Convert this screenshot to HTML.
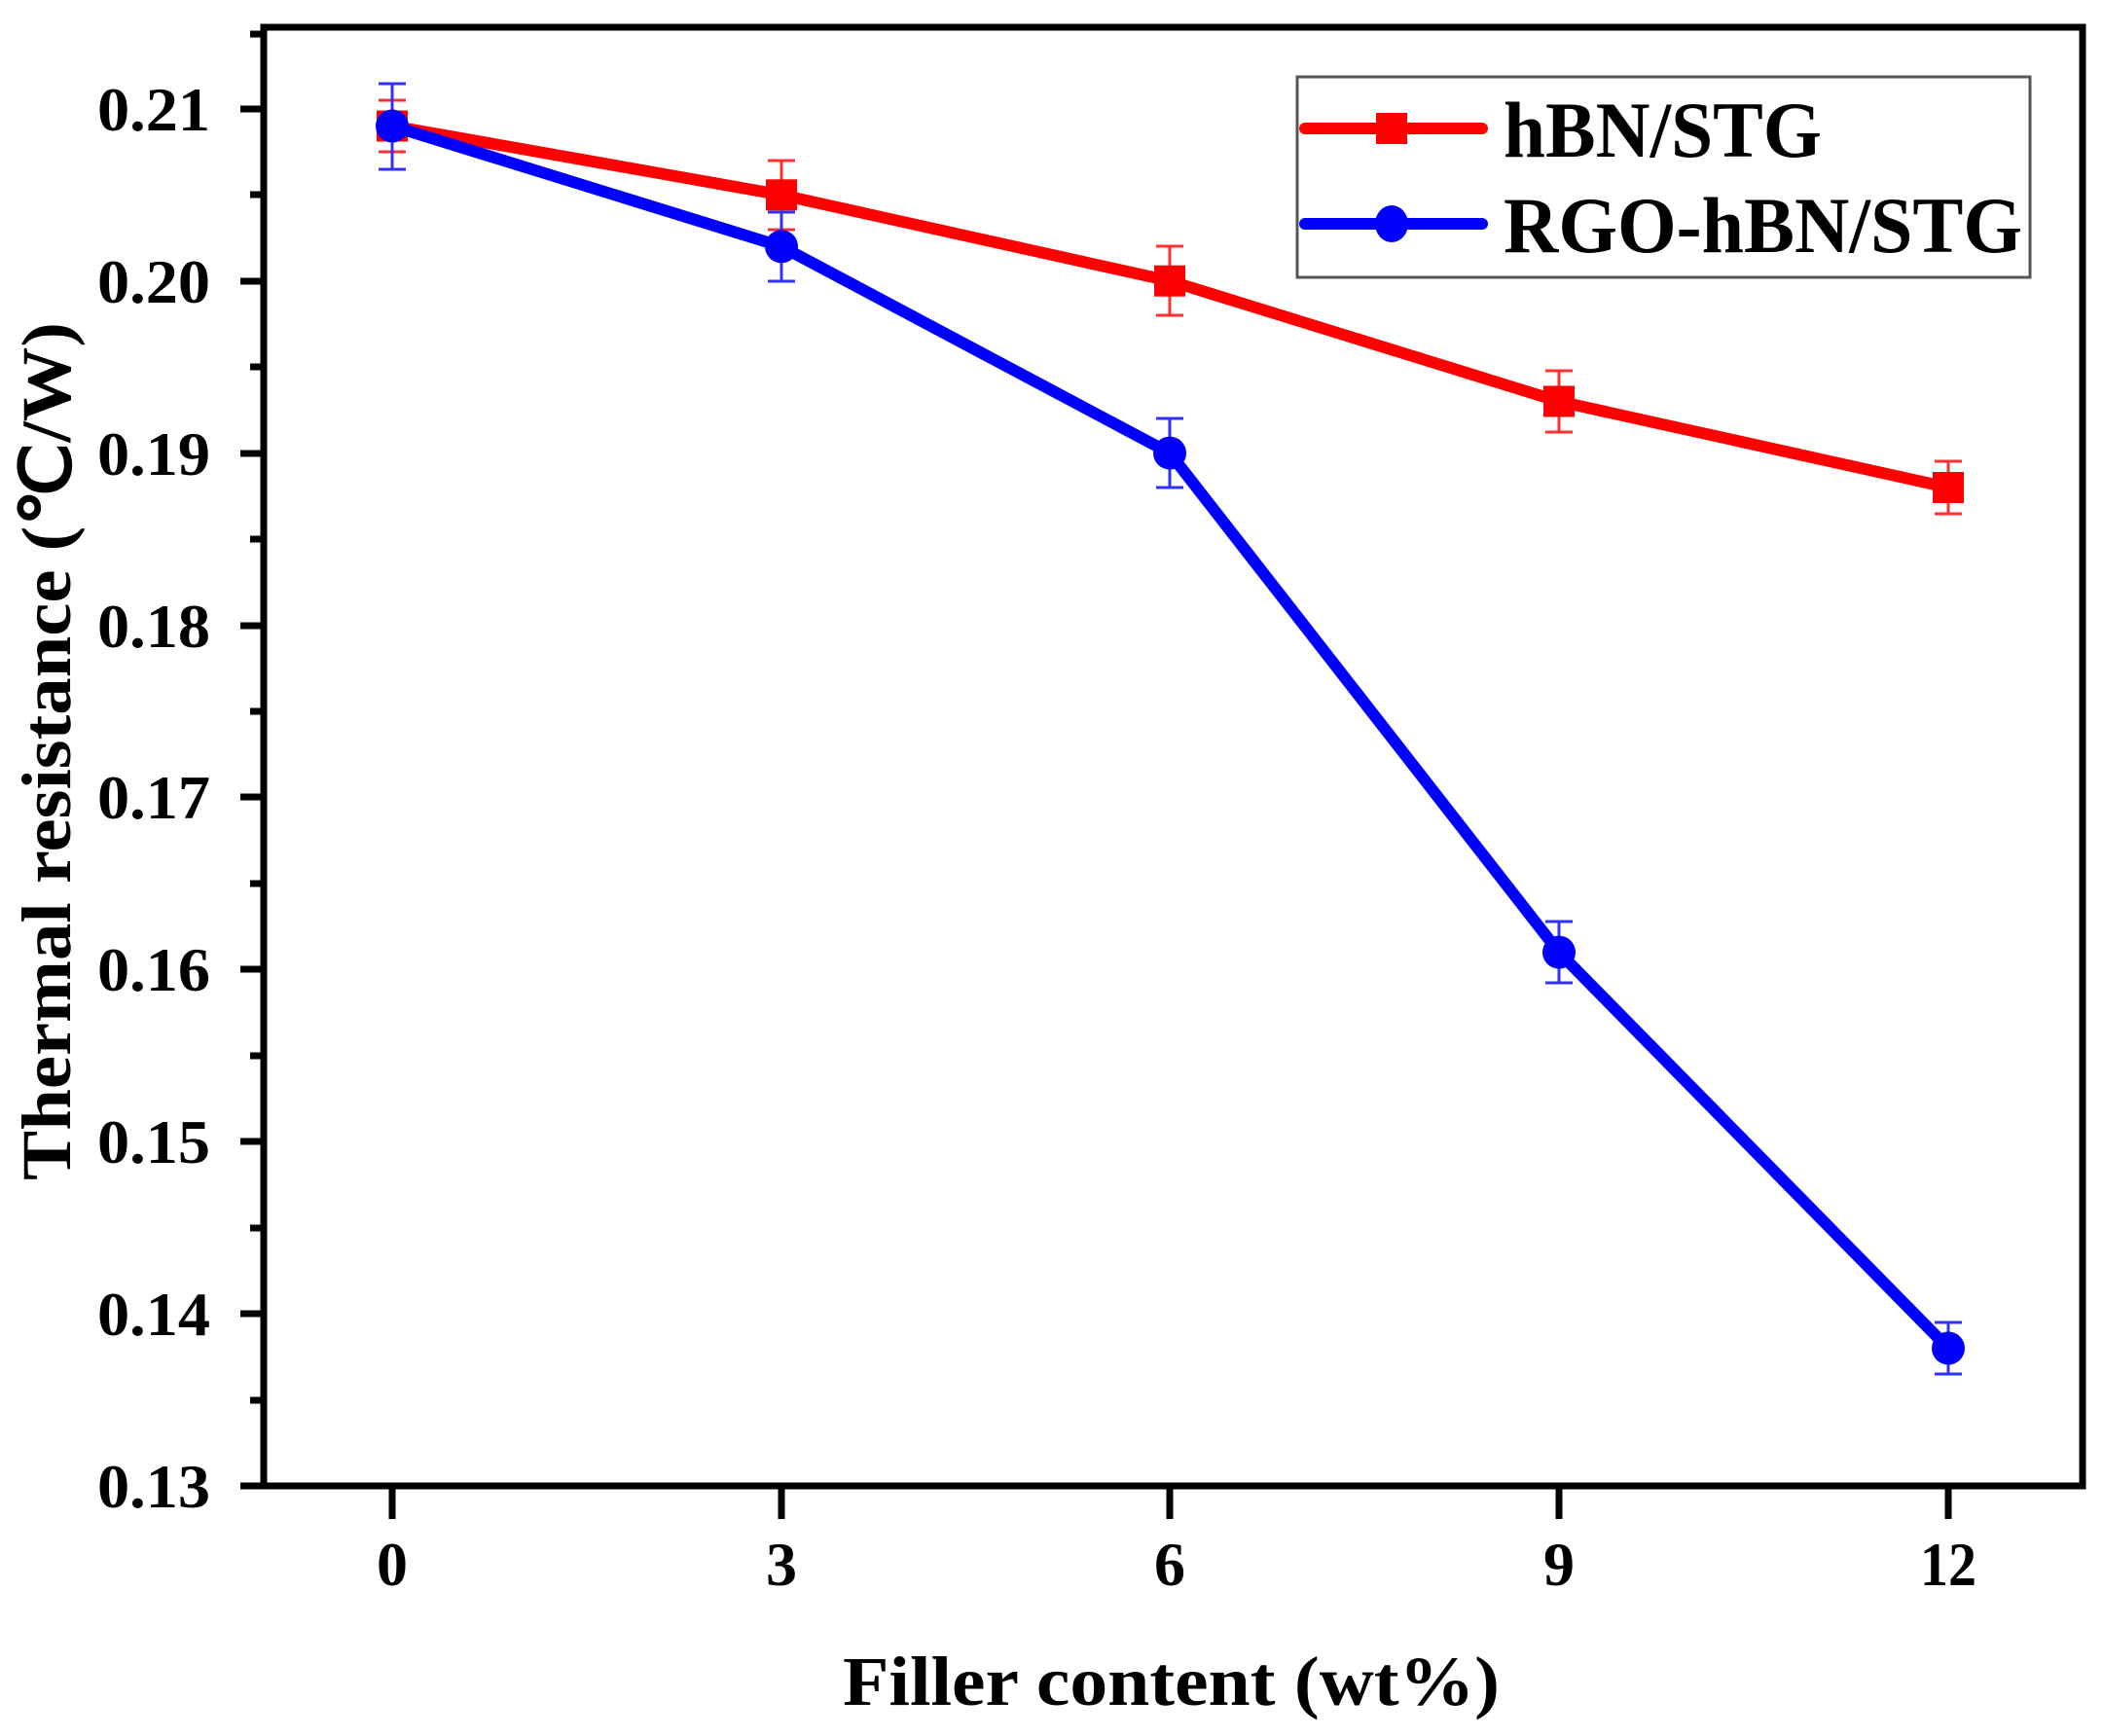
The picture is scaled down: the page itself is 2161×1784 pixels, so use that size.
<!DOCTYPE html>
<html><head><meta charset="utf-8"><style>html,body{margin:0;padding:0;background:#fff}</style></head>
<body>
<svg width="2161" height="1779" viewBox="0 0 2161 1779" xmlns="http://www.w3.org/2000/svg" font-family="'Liberation Serif', serif" font-weight="bold">
<rect width="2161" height="1779" fill="#fff"/>
<g stroke="#000" stroke-width="7">
<line x1="247" y1="112" x2="271" y2="112"/>
<line x1="247" y1="289" x2="271" y2="289"/>
<line x1="247" y1="466" x2="271" y2="466"/>
<line x1="247" y1="643" x2="271" y2="643"/>
<line x1="247" y1="819" x2="271" y2="819"/>
<line x1="247" y1="996" x2="271" y2="996"/>
<line x1="247" y1="1173" x2="271" y2="1173"/>
<line x1="247" y1="1350" x2="271" y2="1350"/>
<line x1="247" y1="1527" x2="271" y2="1527"/>
<line x1="257" y1="200" x2="271" y2="200"/>
<line x1="257" y1="377" x2="271" y2="377"/>
<line x1="257" y1="554" x2="271" y2="554"/>
<line x1="257" y1="731" x2="271" y2="731"/>
<line x1="257" y1="908" x2="271" y2="908"/>
<line x1="257" y1="1085" x2="271" y2="1085"/>
<line x1="257" y1="1262" x2="271" y2="1262"/>
<line x1="257" y1="1439" x2="271" y2="1439"/>
<line x1="257" y1="35" x2="271" y2="35"/>
<line x1="403" y1="1527" x2="403" y2="1561"/>
<line x1="803" y1="1527" x2="803" y2="1561"/>
<line x1="1202" y1="1527" x2="1202" y2="1561"/>
<line x1="1602" y1="1527" x2="1602" y2="1561"/>
<line x1="2002" y1="1527" x2="2002" y2="1561"/>
</g>
<rect x="271" y="28" width="1869" height="1499" fill="none" stroke="#000" stroke-width="7"/>
<g font-size="64" text-anchor="end">
<text x="216" y="134" textLength="116" lengthAdjust="spacingAndGlyphs">0.21</text>
<text x="216" y="311" textLength="116" lengthAdjust="spacingAndGlyphs">0.20</text>
<text x="216" y="488" textLength="116" lengthAdjust="spacingAndGlyphs">0.19</text>
<text x="216" y="665" textLength="116" lengthAdjust="spacingAndGlyphs">0.18</text>
<text x="216" y="841" textLength="116" lengthAdjust="spacingAndGlyphs">0.17</text>
<text x="216" y="1018" textLength="116" lengthAdjust="spacingAndGlyphs">0.16</text>
<text x="216" y="1195" textLength="116" lengthAdjust="spacingAndGlyphs">0.15</text>
<text x="216" y="1372" textLength="116" lengthAdjust="spacingAndGlyphs">0.14</text>
<text x="216" y="1549" textLength="116" lengthAdjust="spacingAndGlyphs">0.13</text>
</g>
<g font-size="64" text-anchor="middle">
<text x="403" y="1629">0</text>
<text x="803" y="1629">3</text>
<text x="1202" y="1629">6</text>
<text x="1602" y="1629">9</text>
<text x="2002" y="1629" textLength="58" lengthAdjust="spacingAndGlyphs">12</text>
</g>
<text x="866" y="1752" font-size="72" textLength="675" lengthAdjust="spacingAndGlyphs">Filler content (wt%)</text>
<text transform="translate(72,1213) rotate(-90)" font-size="72" textLength="882" lengthAdjust="spacingAndGlyphs">Thermal resistance (℃/W)</text>
<g stroke="#ff3030" stroke-width="3">
<line x1="403" y1="103" x2="403" y2="156"/><line x1="389" y1="103" x2="417" y2="103"/><line x1="389" y1="156" x2="417" y2="156"/>
<line x1="803" y1="165" x2="803" y2="236"/><line x1="789" y1="165" x2="817" y2="165"/><line x1="789" y1="236" x2="817" y2="236"/>
<line x1="1202" y1="253" x2="1202" y2="324"/><line x1="1188" y1="253" x2="1216" y2="253"/><line x1="1188" y1="324" x2="1216" y2="324"/>
<line x1="1602" y1="381" x2="1602" y2="444"/><line x1="1588" y1="381" x2="1616" y2="381"/><line x1="1588" y1="444" x2="1616" y2="444"/>
<line x1="2002" y1="474" x2="2002" y2="528"/><line x1="1988" y1="474" x2="2016" y2="474"/><line x1="1988" y1="528" x2="2016" y2="528"/>
</g>
<g stroke="#3030ff" stroke-width="3">
<line x1="403" y1="86" x2="403" y2="174"/><line x1="389" y1="86" x2="417" y2="86"/><line x1="389" y1="174" x2="417" y2="174"/>
<line x1="803" y1="218" x2="803" y2="289"/><line x1="789" y1="218" x2="817" y2="218"/><line x1="789" y1="289" x2="817" y2="289"/>
<line x1="1202" y1="430" x2="1202" y2="501"/><line x1="1188" y1="430" x2="1216" y2="430"/><line x1="1188" y1="501" x2="1216" y2="501"/>
<line x1="1602" y1="947" x2="1602" y2="1010"/><line x1="1588" y1="947" x2="1616" y2="947"/><line x1="1588" y1="1010" x2="1616" y2="1010"/>
<line x1="2002" y1="1359" x2="2002" y2="1412"/><line x1="1988" y1="1359" x2="2016" y2="1359"/><line x1="1988" y1="1412" x2="2016" y2="1412"/>
</g>
<polyline points="403,129.5 803,200.3 1202,288.7 1602,412.5 2002,501" fill="none" stroke="#ff0000" stroke-width="12" stroke-linejoin="round"/>
<g fill="#ff0000">
<rect x="387" y="113.5" width="32" height="32"/><rect x="787" y="184.3" width="32" height="32"/><rect x="1186" y="272.7" width="32" height="32"/><rect x="1586" y="396.5" width="32" height="32"/><rect x="1986" y="485" width="32" height="32"/>
</g>
<polyline points="403,129.5 803,253.3 1202,465.6 1602,978.6 2002,1385.5" fill="none" stroke="#0000ff" stroke-width="12" stroke-linejoin="round"/>
<g fill="#0000ff">
<circle cx="403" cy="129.5" r="17"/><circle cx="803" cy="253.3" r="17"/><circle cx="1202" cy="465.6" r="17"/><circle cx="1602" cy="978.6" r="17"/><circle cx="2002" cy="1385.5" r="17"/>
</g>
<rect x="1333" y="79" width="753" height="206" fill="#fff" stroke="#555" stroke-width="3"/>
<line x1="1341" y1="132" x2="1523" y2="132" stroke="#ff0000" stroke-width="12" stroke-linecap="round"/>
<rect x="1414" y="116" width="32" height="32" fill="#ff0000"/>
<line x1="1341" y1="230" x2="1523" y2="230" stroke="#0000ff" stroke-width="12" stroke-linecap="round"/>
<ellipse cx="1430" cy="230" rx="17" ry="19" fill="#0000ff"/>
<text x="1545" y="161" font-size="82" textLength="327" lengthAdjust="spacingAndGlyphs">hBN/STG</text>
<text x="1545" y="259" font-size="82" textLength="533" lengthAdjust="spacingAndGlyphs">RGO-hBN/STG</text>
</svg>
</body></html>
